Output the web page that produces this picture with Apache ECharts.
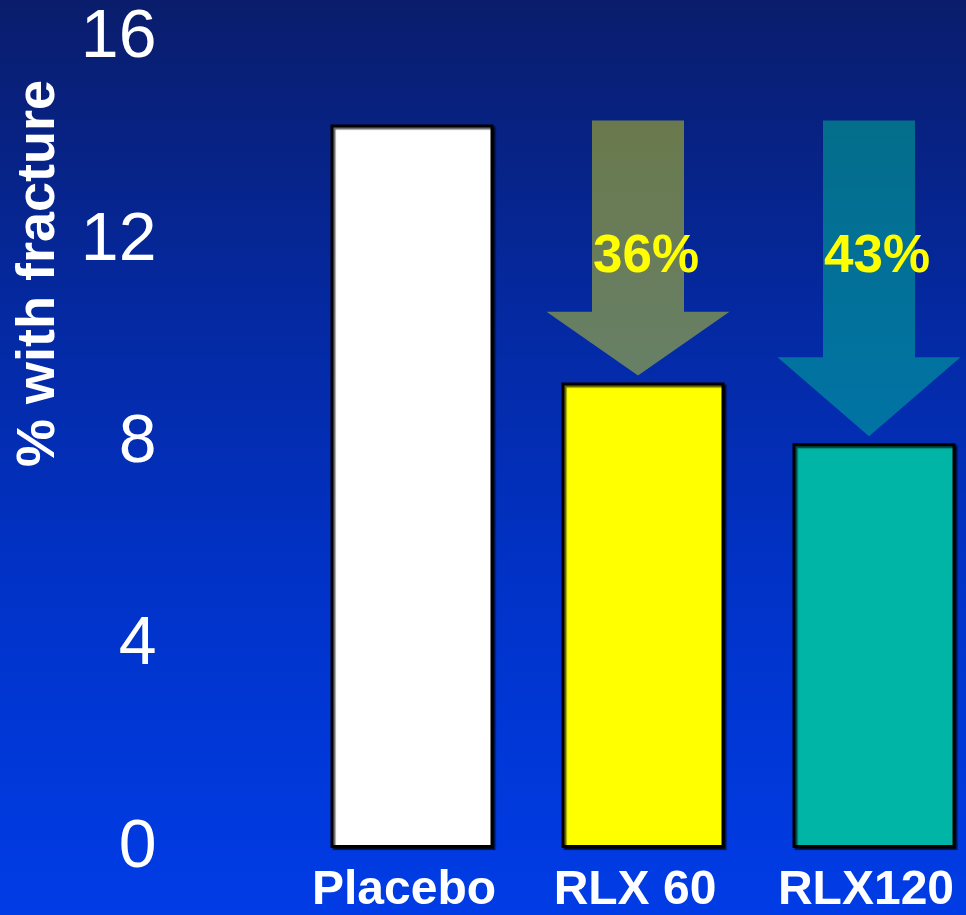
<!DOCTYPE html>
<html>
<head>
<meta charset="utf-8">
<title>% with fracture</title>
<script src="https://cdn.jsdelivr.net/npm/echarts@6/dist/echarts.min.js"></script>
<style>
  html, body { margin: 0; padding: 0; width: 966px; height: 915px; overflow: hidden; }
  /* The plot runs slightly past the right edge of the page, so the canvas is wider than the window */
  #chart { width: 990px; height: 915px; }
</style>
</head>
<body>
<div id="chart"></div>
<script>
// Treatment groups and the share of women with a new fracture in each
const categories = ['Placebo', 'RLX 60', 'RLX120'];
const fracturePct = [14.3, 9.2, 8.0];
// Relative risk reduction versus placebo, shown inside the arrows
const reductionLabels = ['', '36%', '43%'];
// Value axis range
const yMin = 0;
const yMax = 16;
const yStep = 4;

const barColors = ['#ffffff', '#ffff00', '#00b4a6'];
const arrowColors = ['rgba(0,0,0,0)', 'rgba(255,255,0,0.40)', 'rgba(0,185,150,0.50)'];

const FONT = "'Liberation Sans', Arial, Helvetica, sans-serif";

// One arrow per treatment: from the placebo level down to the treated level
const arrowData = [];
for (let i = 1; i < categories.length; i++) {
  arrowData.push([i, fracturePct[0], fracturePct[i], reductionLabels[i]]);
}

function renderArrow(params, api) {
  const cat = api.value(0);
  const from = api.coord([cat, api.value(1)]);
  const to = api.coord([cat, api.value(2)]);
  const cx = from[0] - 5;
  const top = from[1] - 4;
  const tip = to[1] - 7;
  const headH = (tip - top) * 0.25;
  const neck = tip - headH;
  const shaftHalf = 46;
  const headHalf = 91.5;
  const points = [
    [cx - shaftHalf, top], [cx + shaftHalf, top], [cx + shaftHalf, neck],
    [cx + headHalf, neck], [cx, tip], [cx - headHalf, neck], [cx - shaftHalf, neck]
  ];
  return {
    type: 'group',
    children: [
      { type: 'polygon', shape: { points: points }, style: { fill: arrowColors[cat] } },
      {
        type: 'text',
        x: cx + 8,
        y: top + 137,
        style: {
          text: api.value(3),
          fill: '#ffff00',
          fontFamily: FONT,
          fontWeight: 'bold',
          fontSize: 53,
          align: 'center',
          verticalAlign: 'middle',
          textShadowColor: 'rgba(0,0,0,0.9)',
          textShadowOffsetX: 2,
          textShadowOffsetY: 2,
          textShadowBlur: 0
        }
      }
    ]
  };
}

const chart = echarts.init(document.getElementById('chart'), null, { renderer: 'canvas' });

chart.setOption({
  animation: false,
  backgroundColor: {
    type: 'linear', x: 0, y: 0, x2: 0, y2: 1,
    colorStops: [
      { offset: 0, color: '#0a1d6c' },
      { offset: 0.35, color: '#0429a2' },
      { offset: 0.65, color: '#0133c9' },
      { offset: 1, color: '#003ce6' }
    ]
  },
  grid: { left: 296.5, top: 38.5, width: 693, height: 810, containLabel: false },
  xAxis: {
    type: 'category',
    data: categories,
    axisLine: { show: false },
    axisTick: { show: false },
    splitLine: { show: false },
    axisLabel: {
      color: '#ffffff',
      fontFamily: FONT,
      fontWeight: 'bold',
      fontSize: 48,
      margin: 19,
      padding: [0, 16, 0, 0],
      interval: 0,
      textShadowColor: 'rgba(0,0,0,0.9)',
      textShadowOffsetX: 3,
      textShadowOffsetY: 3,
      textShadowBlur: 0
    }
  },
  yAxis: {
    type: 'value',
    min: yMin,
    max: yMax,
    interval: yStep,
    axisLine: { show: false },
    axisTick: { show: false },
    splitLine: { show: false },
    axisLabel: {
      color: '#ffffff',
      fontFamily: FONT,
      fontSize: 68,
      margin: 140
    }
  },
  graphic: [
    {
      type: 'text',
      x: 39,
      y: 273.5,
      rotation: Math.PI / 2,
      style: {
        text: '% with fracture',
        fill: '#ffffff',
        fontFamily: FONT,
        fontWeight: 'bold',
        fontSize: 54,
        align: 'center',
        verticalAlign: 'middle',
        textShadowColor: 'rgba(0,0,0,0.9)',
        textShadowOffsetX: 2,
        textShadowOffsetY: 2,
        textShadowBlur: 0
      }
    }
  ],
  series: [
    {
      type: 'bar',
      barWidth: 163,
      data: fracturePct.map(function (v, i) {
        return { value: v, itemStyle: { color: barColors[i] } };
      }),
      itemStyle: {
        borderColor: '#000000',
        borderWidth: 3,
        shadowColor: 'rgba(0,0,0,0.6)',
        shadowOffsetX: 2,
        shadowOffsetY: 2,
        shadowBlur: 1
      },
      z: 2
    },
    {
      type: 'custom',
      coordinateSystem: 'cartesian2d',
      renderItem: renderArrow,
      data: arrowData,
      z: 3,
      silent: true
    }
  ]
});
</script>
</body>
</html>
